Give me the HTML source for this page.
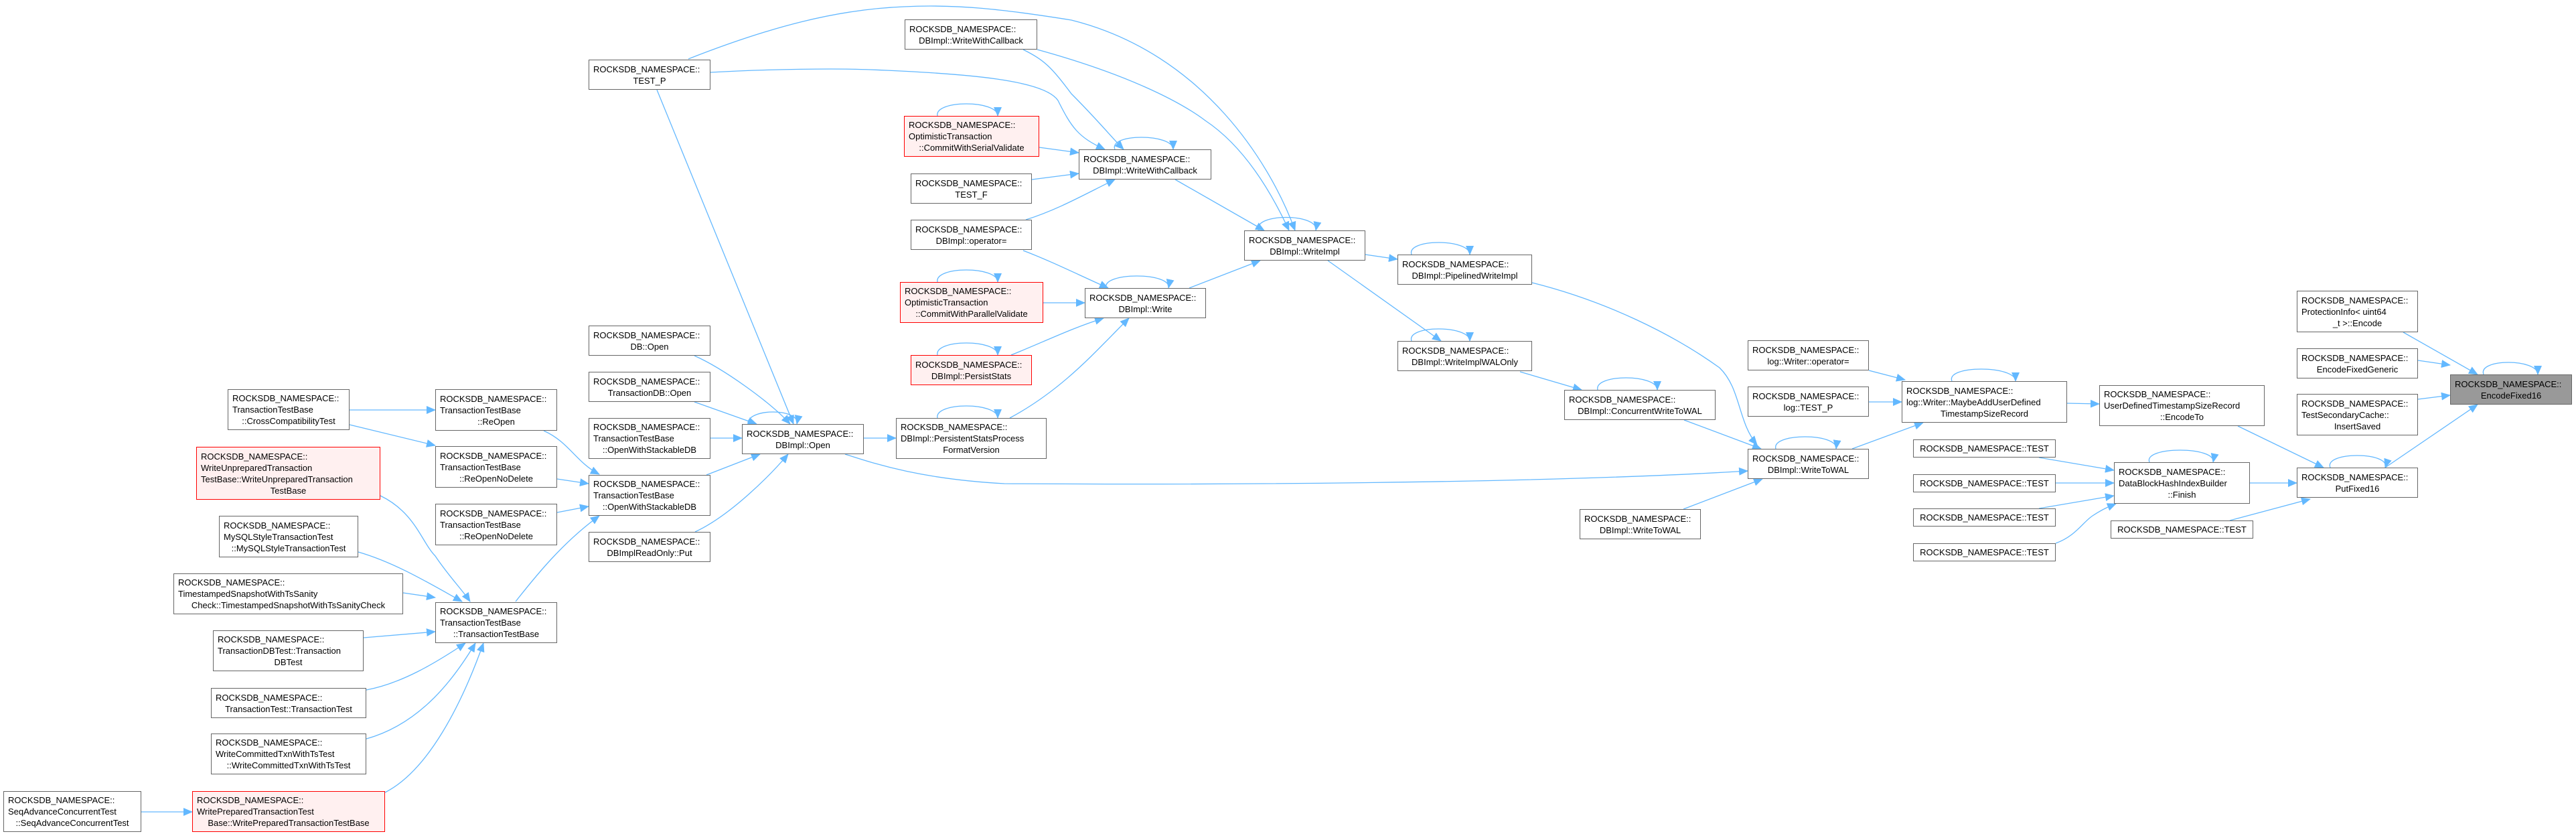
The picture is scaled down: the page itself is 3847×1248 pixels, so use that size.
<!DOCTYPE html>
<html><head><meta charset="utf-8"><style>
html,body{margin:0;padding:0;background:#fff;}
#c{position:relative;width:3847px;height:1248px;overflow:hidden;font-family:"Liberation Sans",sans-serif;}
.n{position:absolute;box-sizing:border-box;border:1px solid #666;background:#fff;font-size:13px;line-height:17px;color:#000;display:flex;flex-direction:column;justify-content:center;white-space:nowrap;}
.n p{margin:0;padding:0 6px;text-align:left;}
.n p:last-child{text-align:center;}
.r{border-color:#ff0000;background:#fff0f0;}
.g{background:#999;border-color:#666;}
svg{position:absolute;left:0;top:0;}
</style></head><body><div id="c">
<svg width="3847" height="1248" viewBox="0 0 3847 1248">
<defs><marker id="a" markerWidth="14" markerHeight="12" refX="13" refY="6" orient="auto" markerUnits="userSpaceOnUse"><path d="M0,0 L14,6 L0,12 Z" fill="#63b8ff"/></marker></defs>
<g fill="none" stroke="#63b8ff" stroke-width="1.3" marker-end="url(#a)">
<path d="M211,1212 L287,1212"/>
<path d="M575,1183 C640,1150 690,1050 722,960"/>
<path d="M547,1103 C630,1080 680,1010 710,960"/>
<path d="M547,1030 C600,1020 650,990 695,960"/>
<path d="M543,952 L650,943"/>
<path d="M602,885 L650,892"/>
<path d="M535,824 C590,840 640,870 690,898"/>
<path d="M568,740 C620,765 630,810 650,830 C670,860 690,880 702,898"/>
<path d="M770,898 C800,860 840,810 895,770"/>
<path d="M522,612 L650,612"/>
<path d="M522,634 L650,665"/>
<path d="M812,643 C850,660 860,690 895,708"/>
<path d="M832,715 L879,722"/>
<path d="M832,765 L879,756"/>
<path d="M981,134 L1185,633"/>
<path d="M1037,531 C1080,550 1150,600 1180,633"/>
<path d="M1037,600 L1130,633"/>
<path d="M1061,654 L1108,654"/>
<path d="M1055,709 L1135,678"/>
<path d="M1038,794 C1090,770 1150,710 1177,678"/>
<path d="M1262,678 C1300,690 1370,715 1500,722 C1800,724 2300,722 2610,703"/>
<path d="M1290,654 L1338,654"/>
<path d="M1028,88 C1150,40 1250,14 1350,10 C1430,6 1500,14 1600,30 C1800,80 1900,250 1934,344"/>
<path d="M1061,108 C1150,103 1250,102 1300,104 C1450,110 1560,120 1580,150 C1600,190 1610,205 1650,223"/>
<path d="M1528,74 C1560,90 1570,100 1600,140 C1640,180 1660,205 1678,223"/>
<path d="M1549,74 C1680,110 1760,150 1800,180 C1860,220 1900,290 1925,344"/>
<path d="M1552,220 L1611,228"/>
<path d="M1541,268 L1611,259"/>
<path d="M1532,328 C1580,313 1620,290 1665,268"/>
<path d="M1528,374 C1570,390 1610,410 1655,430"/>
<path d="M1558,452 L1620,452"/>
<path d="M1510,530 C1560,510 1600,490 1648,475"/>
<path d="M1508,624 C1590,580 1640,520 1686,475"/>
<path d="M1755,268 L1888,344"/>
<path d="M1776,430 L1882,389"/>
<path d="M2039,380 L2087,387"/>
<path d="M1983,389 L2152,509"/>
<path d="M2270,555 L2362,582"/>
<path d="M2288,422 C2400,450 2500,500 2568,549 C2600,580 2595,630 2624,664"/>
<path d="M2515,627 L2630,670"/>
<path d="M2514,760 L2632,715"/>
<path d="M2766,670 L2872,631"/>
<path d="M2791,553 L2845,567"/>
<path d="M2791,600 L2840,600"/>
<path d="M3087,602 L3135,603"/>
<path d="M3342,636 L3470,698"/>
<path d="M3045,683 L3157,702"/>
<path d="M3070,721 L3157,721"/>
<path d="M3045,759 L3157,740"/>
<path d="M3070,811 C3100,800 3110,780 3125,770 C3140,760 3150,756 3160,752"/>
<path d="M3360,721 L3430,721"/>
<path d="M3330,777 L3450,745"/>
<path d="M3589,496 L3700,559"/>
<path d="M3611,538 L3659,545"/>
<path d="M3611,596 L3659,590"/>
<path d="M3562,698 L3700,604"/>
<path d="M3709,559 C3700,535 3790,535 3790,559"/>
<path d="M3480,698 C3470,674 3570,674 3562,698"/>
<path d="M3210,690 C3200,666 3310,666 3305,690"/>
<path d="M2915,569 C2905,545 3010,545 3010,569"/>
<path d="M2652,670 C2645,646 2745,646 2742,670"/>
<path d="M2386,582 C2380,558 2475,558 2475,582"/>
<path d="M2108,509 C2100,485 2195,485 2195,509"/>
<path d="M2108,380 C2100,356 2195,356 2195,380"/>
<path d="M1880,344 C1870,318 1970,318 1965,344"/>
<path d="M1652,430 C1645,406 1750,406 1745,430"/>
<path d="M1665,223 C1655,199 1752,199 1752,223"/>
<path d="M1117,633 C1115,609 1195,609 1190,633"/>
<path d="M1400,173 C1395,149 1490,149 1490,173"/>
<path d="M1400,421 C1395,397 1490,397 1490,421"/>
<path d="M1400,530 C1395,506 1490,506 1490,530"/>
<path d="M1400,624 C1395,600 1490,600 1490,624"/>
</g>
</svg>

<div class="n" style="left:879px;top:89px;width:182px;height:45px"><p>ROCKSDB_NAMESPACE::</p><p>TEST_P</p></div>
<div class="n" style="left:879px;top:486px;width:182px;height:45px"><p>ROCKSDB_NAMESPACE::</p><p>DB::Open</p></div>
<div class="n" style="left:879px;top:555px;width:182px;height:45px"><p>ROCKSDB_NAMESPACE::</p><p>TransactionDB::Open</p></div>
<div class="n" style="left:879px;top:624px;width:182px;height:61px"><p>ROCKSDB_NAMESPACE::</p><p>TransactionTestBase</p><p>::OpenWithStackableDB</p></div>
<div class="n" style="left:1108px;top:633px;width:182px;height:45px"><p>ROCKSDB_NAMESPACE::</p><p>DBImpl::Open</p></div>
<div class="n" style="left:879px;top:709px;width:182px;height:61px"><p>ROCKSDB_NAMESPACE::</p><p>TransactionTestBase</p><p>::OpenWithStackableDB</p></div>
<div class="n" style="left:879px;top:794px;width:182px;height:45px"><p>ROCKSDB_NAMESPACE::</p><p>DBImplReadOnly::Put</p></div>
<div class="n" style="left:340px;top:581px;width:182px;height:61px"><p>ROCKSDB_NAMESPACE::</p><p>TransactionTestBase</p><p>::CrossCompatibilityTest</p></div>
<div class="n" style="left:650px;top:581px;width:182px;height:62px"><p>ROCKSDB_NAMESPACE::</p><p>TransactionTestBase</p><p>::ReOpen</p></div>
<div class="n" style="left:650px;top:666px;width:182px;height:62px"><p>ROCKSDB_NAMESPACE::</p><p>TransactionTestBase</p><p>::ReOpenNoDelete</p></div>
<div class="n" style="left:650px;top:752px;width:182px;height:62px"><p>ROCKSDB_NAMESPACE::</p><p>TransactionTestBase</p><p>::ReOpenNoDelete</p></div>
<div class="n r" style="left:293px;top:667px;width:275px;height:79px"><p>ROCKSDB_NAMESPACE::</p><p>WriteUnpreparedTransaction</p><p>TestBase::WriteUnpreparedTransaction</p><p>TestBase</p></div>
<div class="n" style="left:327px;top:770px;width:208px;height:62px"><p>ROCKSDB_NAMESPACE::</p><p>MySQLStyleTransactionTest</p><p>::MySQLStyleTransactionTest</p></div>
<div class="n" style="left:259px;top:856px;width:343px;height:61px"><p>ROCKSDB_NAMESPACE::</p><p>TimestampedSnapshotWithTsSanity</p><p>Check::TimestampedSnapshotWithTsSanityCheck</p></div>
<div class="n" style="left:650px;top:899px;width:182px;height:61px"><p>ROCKSDB_NAMESPACE::</p><p>TransactionTestBase</p><p>::TransactionTestBase</p></div>
<div class="n" style="left:318px;top:941px;width:225px;height:61px"><p>ROCKSDB_NAMESPACE::</p><p>TransactionDBTest::Transaction</p><p>DBTest</p></div>
<div class="n" style="left:315px;top:1027px;width:232px;height:45px"><p>ROCKSDB_NAMESPACE::</p><p>TransactionTest::TransactionTest</p></div>
<div class="n" style="left:315px;top:1095px;width:232px;height:61px"><p>ROCKSDB_NAMESPACE::</p><p>WriteCommittedTxnWithTsTest</p><p>::WriteCommittedTxnWithTsTest</p></div>
<div class="n r" style="left:287px;top:1181px;width:288px;height:61px"><p>ROCKSDB_NAMESPACE::</p><p>WritePreparedTransactionTest</p><p>Base::WritePreparedTransactionTestBase</p></div>
<div class="n" style="left:5px;top:1181px;width:206px;height:61px"><p>ROCKSDB_NAMESPACE::</p><p>SeqAdvanceConcurrentTest</p><p>::SeqAdvanceConcurrentTest</p></div>

<div class="n" style="left:1351px;top:29px;width:198px;height:45px"><p>ROCKSDB_NAMESPACE::</p><p>DBImpl::WriteWithCallback</p></div>
<div class="n r" style="left:1350px;top:173px;width:202px;height:61px"><p>ROCKSDB_NAMESPACE::</p><p>OptimisticTransaction</p><p>::CommitWithSerialValidate</p></div>
<div class="n" style="left:1611px;top:223px;width:198px;height:45px"><p>ROCKSDB_NAMESPACE::</p><p>DBImpl::WriteWithCallback</p></div>
<div class="n" style="left:1360px;top:259px;width:181px;height:45px"><p>ROCKSDB_NAMESPACE::</p><p>TEST_F</p></div>
<div class="n" style="left:1360px;top:328px;width:181px;height:45px"><p>ROCKSDB_NAMESPACE::</p><p>DBImpl::operator=</p></div>
<div class="n" style="left:1858px;top:344px;width:181px;height:45px"><p>ROCKSDB_NAMESPACE::</p><p>DBImpl::WriteImpl</p></div>
<div class="n" style="left:2087px;top:380px;width:201px;height:45px"><p>ROCKSDB_NAMESPACE::</p><p>DBImpl::PipelinedWriteImpl</p></div>
<div class="n r" style="left:1344px;top:421px;width:214px;height:61px"><p>ROCKSDB_NAMESPACE::</p><p>OptimisticTransaction</p><p>::CommitWithParallelValidate</p></div>
<div class="n" style="left:1620px;top:430px;width:181px;height:45px"><p>ROCKSDB_NAMESPACE::</p><p>DBImpl::Write</p></div>
<div class="n r" style="left:1360px;top:530px;width:181px;height:45px"><p>ROCKSDB_NAMESPACE::</p><p>DBImpl::PersistStats</p></div>
<div class="n" style="left:2087px;top:509px;width:201px;height:45px"><p>ROCKSDB_NAMESPACE::</p><p>DBImpl::WriteImplWALOnly</p></div>
<div class="n" style="left:2336px;top:582px;width:226px;height:45px"><p>ROCKSDB_NAMESPACE::</p><p>DBImpl::ConcurrentWriteToWAL</p></div>
<div class="n" style="left:1338px;top:624px;width:225px;height:61px"><p>ROCKSDB_NAMESPACE::</p><p>DBImpl::PersistentStatsProcess</p><p>FormatVersion</p></div>
<div class="n" style="left:2359px;top:760px;width:181px;height:45px"><p>ROCKSDB_NAMESPACE::</p><p>DBImpl::WriteToWAL</p></div>

<div class="n" style="left:2610px;top:508px;width:181px;height:45px"><p>ROCKSDB_NAMESPACE::</p><p>log::Writer::operator=</p></div>
<div class="n" style="left:2840px;top:569px;width:247px;height:62px"><p>ROCKSDB_NAMESPACE::</p><p>log::Writer::MaybeAddUserDefined</p><p>TimestampSizeRecord</p></div>
<div class="n" style="left:2610px;top:577px;width:181px;height:45px"><p>ROCKSDB_NAMESPACE::</p><p>log::TEST_P</p></div>
<div class="n" style="left:2610px;top:670px;width:181px;height:45px"><p>ROCKSDB_NAMESPACE::</p><p>DBImpl::WriteToWAL</p></div>
<div class="n" style="left:3135px;top:575px;width:247px;height:61px"><p>ROCKSDB_NAMESPACE::</p><p>UserDefinedTimestampSizeRecord</p><p>::EncodeTo</p></div>
<div class="n" style="left:2857px;top:656px;width:213px;height:27px"><p>ROCKSDB_NAMESPACE::TEST</p></div>
<div class="n" style="left:2857px;top:708px;width:213px;height:27px"><p>ROCKSDB_NAMESPACE::TEST</p></div>
<div class="n" style="left:2857px;top:759px;width:213px;height:27px"><p>ROCKSDB_NAMESPACE::TEST</p></div>
<div class="n" style="left:2857px;top:811px;width:213px;height:27px"><p>ROCKSDB_NAMESPACE::TEST</p></div>
<div class="n" style="left:3157px;top:690px;width:203px;height:62px"><p>ROCKSDB_NAMESPACE::</p><p>DataBlockHashIndexBuilder</p><p>::Finish</p></div>
<div class="n" style="left:3152px;top:777px;width:213px;height:27px"><p>ROCKSDB_NAMESPACE::TEST</p></div>
<div class="n" style="left:3430px;top:434px;width:181px;height:62px"><p>ROCKSDB_NAMESPACE::</p><p>ProtectionInfo&lt; uint64</p><p>_t &gt;::Encode</p></div>
<div class="n" style="left:3430px;top:520px;width:181px;height:45px"><p>ROCKSDB_NAMESPACE::</p><p>EncodeFixedGeneric</p></div>
<div class="n" style="left:3430px;top:588px;width:181px;height:62px"><p>ROCKSDB_NAMESPACE::</p><p>TestSecondaryCache::</p><p>InsertSaved</p></div>
<div class="n g" style="left:3659px;top:559px;width:182px;height:45px"><p>ROCKSDB_NAMESPACE::</p><p>EncodeFixed16</p></div>
<div class="n" style="left:3430px;top:698px;width:181px;height:45px"><p>ROCKSDB_NAMESPACE::</p><p>PutFixed16</p></div>
</div></body></html>
